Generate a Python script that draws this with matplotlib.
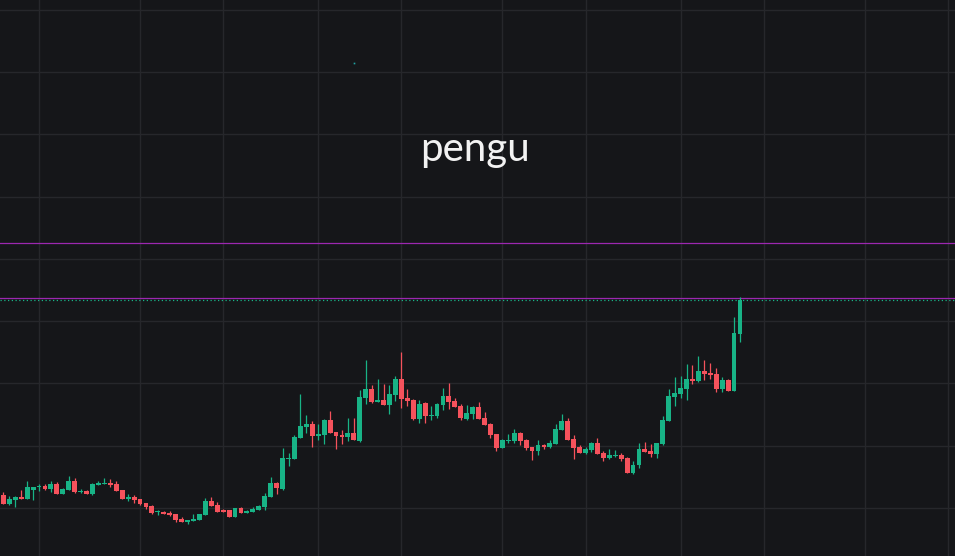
import numpy as np
import pandas as pd
import matplotlib
matplotlib.use('Agg')
import matplotlib.pyplot as plt
import matplotlib.dates as mdates

# --- DATA (daily PENGU candles, price in 1e-5 USD units) ---
start_date = '2025-03-08'
opens = [1019, 1013, 1004, 1008, 1011, 1009, 1018, 1021, 1022, 1019,
         1024, 1014, 1018, 1027, 1016, 1017, 1014, 1023, 1024, 1025,
         1024, 1018, 1009, 1011, 1009, 1005, 1002, 996, 996, 995,
         994, 989, 986, 987, 988, 993, 1007, 1003, 998, 998,
         991, 1000, 995, 996, 998, 1001, 1011, 1025, 1019, 1049,
         1049, 1070, 1081, 1084, 1072, 1073, 1088, 1076, 1073, 1071,
         1075, 1067, 1110, 1119, 1106, 1108, 1103, 1113, 1129, 1110,
         1108, 1089, 1105, 1092, 1092, 1103, 1112, 1107, 1102, 1089,
         1094, 1101, 1090, 1084, 1074, 1060, 1067, 1067, 1075, 1068,
         1061, 1057, 1063, 1061, 1064, 1078, 1087, 1069, 1061, 1055,
         1058, 1065, 1055, 1050, 1052, 1053, 1050, 1035, 1043, 1059,
         1057, 1054, 1064, 1087, 1111, 1114, 1119, 1129, 1127, 1137,
         1135, 1134, 1119, 1128, 1117, 1174]
highs = [1020, 1016, 1012, 1012, 1018, 1027, 1021, 1024, 1024, 1027,
         1026, 1020, 1032, 1030, 1019, 1018, 1025, 1027, 1030, 1029,
         1027, 1018, 1014, 1013, 1009, 1005, 1003, 998, 997, 997,
         994, 991, 988, 994, 994, 1010, 1011, 1006, 999, 998,
         1000, 1001, 998, 1001, 1003, 1015, 1031, 1026, 1060, 1055,
         1073, 1114, 1093, 1087, 1084, 1089, 1097, 1076, 1078, 1090,
         1090, 1118, 1148, 1123, 1129, 1124, 1123, 1132, 1156, 1119,
         1109, 1108, 1106, 1102, 1105, 1120, 1125, 1110, 1104, 1103,
         1102, 1106, 1096, 1085, 1074, 1069, 1074, 1079, 1076, 1069,
         1061, 1068, 1064, 1068, 1084, 1094, 1090, 1073, 1063, 1061,
         1066, 1070, 1057, 1059, 1058, 1055, 1051, 1047, 1065, 1066,
         1064, 1065, 1092, 1119, 1131, 1132, 1144, 1143, 1152, 1148,
         1145, 1140, 1131, 1129, 1191, 1211]
lows = [1012, 1004, 1003, 1001, 1009, 1009, 1008, 1017, 1018, 1016,
        1014, 1014, 1018, 1015, 1015, 1014, 1013, 1023, 1024, 1021,
        1017, 1009, 1007, 1005, 1003, 999, 994, 993, 994, 992,
        986, 986, 984, 987, 988, 993, 1002, 996, 996, 991,
        991, 995, 995, 996, 998, 998, 1011, 1014, 1018, 1042,
        1049, 1070, 1075, 1061, 1068, 1064, 1075, 1059, 1064, 1067,
        1068, 1066, 1104, 1105, 1106, 1103, 1094, 1107, 1100, 1102,
        1088, 1085, 1085, 1088, 1090, 1098, 1099, 1101, 1088, 1088,
        1089, 1089, 1083, 1070, 1057, 1060, 1065, 1065, 1063, 1058,
        1048, 1053, 1059, 1060, 1064, 1078, 1068, 1049, 1055, 1054,
        1056, 1054, 1047, 1049, 1051, 1047, 1035, 1034, 1040, 1056,
        1051, 1050, 1063, 1087, 1102, 1110, 1108, 1124, 1126, 1128,
        1129, 1116, 1116, 1117, 1117, 1166]
closes = [1013, 1004, 1009, 1011, 1009, 1021, 1021, 1022, 1019, 1024,
          1014, 1019, 1027, 1016, 1017, 1014, 1024, 1025, 1025, 1023,
          1017, 1009, 1011, 1008, 1004, 1001, 995, 997, 994, 993,
          988, 986, 988, 989, 994, 1007, 1002, 996, 996, 991,
          1000, 995, 997, 999, 1002, 1012, 1025, 1020, 1050, 1050,
          1071, 1082, 1084, 1072, 1074, 1088, 1075, 1072, 1071, 1075,
          1068, 1111, 1119, 1106, 1108, 1103, 1114, 1129, 1109, 1107,
          1089, 1104, 1092, 1093, 1104, 1112, 1106, 1101, 1090, 1095,
          1101, 1089, 1083, 1073, 1060, 1068, 1068, 1075, 1067, 1060,
          1057, 1063, 1061, 1065, 1079, 1087, 1068, 1060, 1055, 1059,
          1065, 1054, 1050, 1053, 1053, 1049, 1035, 1043, 1059, 1056,
          1054, 1065, 1088, 1112, 1115, 1120, 1129, 1127, 1137, 1134,
          1133, 1119, 1128, 1117, 1175, 1208]

# drawn lines / annotations on the chart
upper_level = 1265
lower_level = 1210
label_text = 'pengu'
stray_dot = ('2025-05-07', 1445)
grid_dates = ['2025-03-15', '2025-04-01', '2025-04-15', '2025-05-01', '2025-05-15',
              '2025-06-01', '2025-06-15', '2025-07-01', '2025-07-15', '2025-08-01',
              '2025-08-15']
grid_prices = [1000, 1062.3, 1124.6, 1186.9, 1249.2, 1311.5, 1373.8, 1436.1, 1498.4]

# --- STYLE ---
BG = '#151619'
GRID = '#26272b'
UP = '#18b386'
DOWN = '#f5525c'
PURPLE = '#9c27b0'

o = np.array(opens, dtype=float)
h = np.array(highs, dtype=float)
l = np.array(lows, dtype=float)
c = np.array(closes, dtype=float)
dates = pd.date_range(start_date, periods=len(o), freq='D')
x = mdates.date2num(dates)
up = c >= o
colors = np.where(up, UP, DOWN)

fig = plt.figure(figsize=(9.55, 5.56), dpi=100)
fig.patch.set_facecolor(BG)
ax = fig.add_axes([0, 0, 1, 1])
ax.set_facecolor(BG)

# grid
ax.set_xticks(mdates.date2num(pd.to_datetime(grid_dates)))
ax.set_yticks(grid_prices)
ax.grid(True, color=GRID, linewidth=1.0)
ax.set_axisbelow(True)
ax.tick_params(left=False, bottom=False, labelleft=False, labelbottom=False)
for s in ax.spines.values():
    s.set_visible(False)

# candles
ax.vlines(x, l, h, colors=colors, linewidth=0.9, zorder=3)
body_bottom = np.minimum(o, c)
body_height = np.maximum(np.abs(c - o), 1.0)
ax.bar(x, body_height, bottom=body_bottom, width=0.82, color=colors,
       linewidth=0, zorder=4)

# user lines + last price line
ax.axhline(upper_level, color=PURPLE, linewidth=0.9, zorder=2)
ax.axhline(lower_level, color=PURPLE, linewidth=0.9, zorder=2)
ax.axhline(c[-1], color=UP if up[-1] else DOWN, linewidth=0.9,
           linestyle=(0, (1, 2)), zorder=2)

# small stray dot
ax.plot(mdates.date2num(pd.Timestamp(stray_dot[0])), stray_dot[1], 's',
        color='#1fa3a3', markersize=1.2, markeredgewidth=0)

ax.text(0.497, 0.711, label_text, transform=ax.transAxes, ha='center',
        va='baseline', color='#f2f2f2', fontsize=29, family=['Lato', 'DejaVu Sans'])

ax.set_xlim(x[0] + 0.43, x[0] + 161.2)
ax.set_ylim(952, 1508)

plt.savefig('out.png', dpi=100, facecolor=BG)
